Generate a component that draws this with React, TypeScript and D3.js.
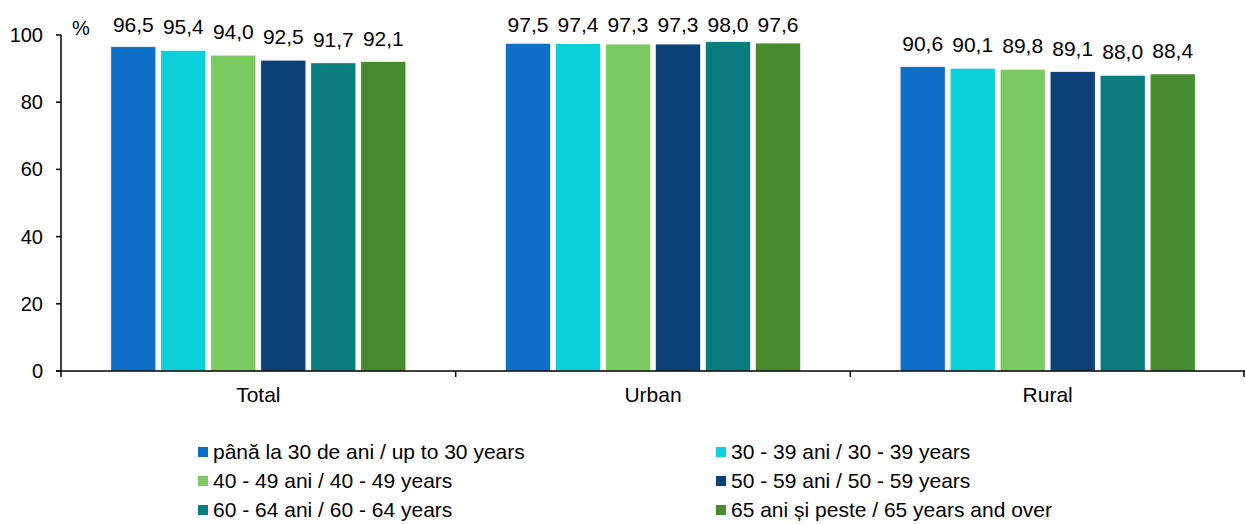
import React from "react";
import * as d3 from "d3";

const categories = ["Total", "Urban", "Rural"];
const seriesNames = [
  "până la 30 de ani / up to 30 years",
  "30 - 39 ani / 30 - 39 years",
  "40 - 49 ani / 40 - 49 years",
  "50 - 59 ani / 50 - 59 years",
  "60 - 64 ani / 60 - 64 years",
  "65 ani și peste / 65 years and over",
];
const upTo30 = [96.5, 97.5, 90.6];
const age30_39 = [95.4, 97.4, 90.1];
const age40_49 = [94.0, 97.3, 89.8];
const age50_59 = [92.5, 97.3, 89.1];
const age60_64 = [91.7, 98.0, 88.0];
const age65plus = [92.1, 97.6, 88.4];
const seriesValues = [upTo30, age30_39, age40_49, age50_59, age60_64, age65plus];
const colors = ["#0F6FC6", "#0BD0D9", "#7CCA62", "#0B4176", "#097C80", "#478A2F"];
const yTicks = [0, 20, 40, 60, 80, 100];

export default function App() {
  const W = 1245, H = 524;
  const x0 = 61, x1 = 1245, yTop = 35, yBot = 371;
  const font = "'Liberation Sans', Arial, sans-serif";
  const x = d3.scaleBand<string>().domain(categories).range([x0, x1]).paddingInner(0).paddingOuter(0);
  const y = d3.scaleLinear().domain([0, 100]).range([yBot, yTop]);
  const groupW = 295;
  const xs = d3.scaleBand<number>().domain(d3.range(seriesNames.length)).range([0, groupW]).paddingInner(0.1).paddingOuter(0);
  const fmt = (v: number) => v.toFixed(1).replace(".", ",");
  const fs = 21;

  return (
    <svg width={W} height={H} style={{ position: "absolute", left: 0, top: 0 }} fontFamily={font}>
      <rect width={W} height={H} fill="#fff" />
      {categories.map((c, ci) => {
        const gx = (x(c) as number) + (x.bandwidth() - groupW) / 2;
        return (
          <g key={c}>
            {seriesValues.map((vals, si) => {
              const bx = gx + (xs(si) as number);
              const v = vals[ci];
              return (
                <g key={si}>
                  <rect x={bx} y={y(v)} width={xs.bandwidth()} height={yBot - y(v)} fill={colors[si]} stroke="#fff" strokeWidth={0.6} />
                  <text x={bx + xs.bandwidth() / 2} y={Math.max(y(v) - 16, 32)} textAnchor="middle" fontSize={fs} fill="#000">{fmt(v)}</text>
                </g>
              );
            })}
            <text x={(x(c) as number) + x.bandwidth() / 2} y={402} textAnchor="middle" fontSize={fs} fill="#000">{c}</text>
          </g>
        );
      })}
      {/* y axis */}
      <line x1={x0} x2={x0} y1={yTop} y2={yBot} stroke="#000" strokeWidth={1.5} />
      {yTicks.map((t) => (
        <g key={t}>
          <line x1={x0 - 5} x2={x0} y1={y(t)} y2={y(t)} stroke="#000" strokeWidth={1.5} />
          <text x={x0 - 18} y={y(t) + 7} textAnchor="end" fontSize={20} fill="#000">{t}</text>
        </g>
      ))}
      <text x={72} y={35} fontSize={20} fill="#000">%</text>
      {/* x axis */}
      <line x1={x0 - 5} x2={x1} y1={yBot} y2={yBot} stroke="#000" strokeWidth={1.5} />
      {[...categories.map((c) => x(c) as number), x1 - 1].map((p, i) => (
        <line key={i} x1={p} x2={p} y1={yBot} y2={yBot + 6} stroke="#000" strokeWidth={1.5} />
      ))}
      {/* legend */}
      {seriesNames.map((n, i) => {
        const col = i % 2, row = Math.floor(i / 2);
        const lx = col === 0 ? 198 : 716;
        const base = 459 + row * 29;
        return (
          <g key={n}>
            <rect x={lx} y={base - 12} width={10} height={10} fill={colors[i]} />
            <text x={lx + 15} y={base} fontSize={fs} fill="#000">{n}</text>
          </g>
        );
      })}
    </svg>
  );
}
